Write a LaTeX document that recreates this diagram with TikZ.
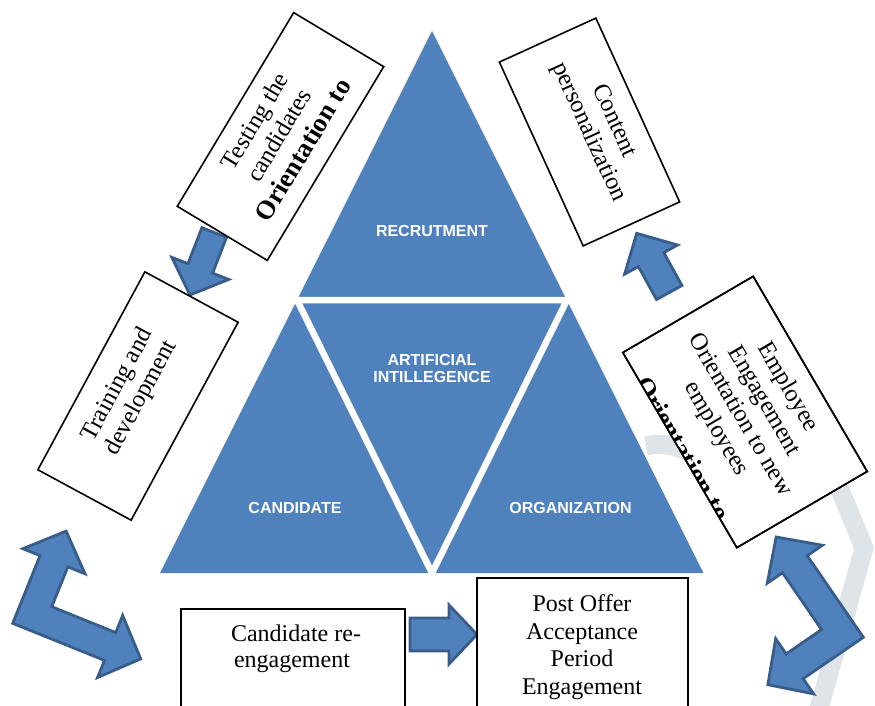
\documentclass[tikz,border=0pt]{standalone}
\usepackage{fontspec}
\setmainfont{Liberation Serif}
\newfontfamily\facetfont{Liberation Sans}
\definecolor{pyramid}{HTML}{4F81BD}
\definecolor{arrowedge}{HTML}{385D8A}
\definecolor{watermark}{HTML}{DEE4E8}
\begin{document}
\begin{tikzpicture}[x=1pt,y=-1pt,
  every node/.style={inner sep=0pt, outer sep=0pt},
  facet label/.style={text=white, align=center,
    font=\facetfont\bfseries\fontsize{16}{17.5}\selectfont},
  card/.style={draw=black, fill=white, line width=1.6pt, transform shape},
  card line/.style={anchor=base, transform shape,
    font=\fontsize{24.5}{27.5}\selectfont},
  card bold/.style={anchor=base, transform shape,
    font=\bfseries\fontsize{26.5}{27.5}\selectfont},
  flat card/.style={draw=black, fill=white, line width=1.6pt},
  flat line/.style={anchor=base, font=\fontsize{24}{27.5}\selectfont},
  blockarrow/.style={fill=pyramid, draw=arrowedge, line width=2.8pt, line join=miter},
  faint band/.style={draw=watermark, line width=19pt, line cap=butt},
]
\useasboundingbox (0,0) rectangle (875,705);
\clip (0,0) rectangle (875,705);

% ---- faint background emblem strokes
\draw[faint band] (832,470) -- (864,548) -- (841,630) -- (818,712);
\draw[faint band] (646,446) .. controls (672,440) and (696,452) .. (706,470);

% ---- pyramid: four facets separated by white gaps
\fill[pyramid] (160,573) coordinate (pyrL) -- (432,31) coordinate (pyrT)
  -- (703.5,573) coordinate (pyrR) -- cycle;
\draw[white, line width=6.5pt, line join=miter]
  (297,300) -- (567,300) -- (432,573) -- cycle;
\node[facet label] (recruit) at (432,231) {RECRUTMENT};
\node[facet label] (ai) at (432,368.5) {ARTIFICIAL\\INTILLEGENCE};
\node[facet label] (cand) at (295,507.5) {CANDIDATE};
\node[facet label] (org) at (570.5,507.5) {ORGANIZATION};

% ---- straight block arrows
\begin{scope}[shift={(214.2,232.5)}, rotate=248.8]
  \draw[blockarrow] (0,-13.2) -- (38.5,-13.2) -- (38.5,-30.5) -- (67,0)
    -- (38.5,30.5) -- (38.5,13.2) -- (0,13.2) -- cycle;
\end{scope}
\begin{scope}[shift={(669.2,292.5)}, rotate=118.8]
  \draw[blockarrow] (0,-14.5) -- (37.6,-14.5) -- (37.6,-30.2) -- (67.5,0)
    -- (37.6,30.2) -- (37.6,14.5) -- (0,14.5) -- cycle;
\end{scope}
\begin{scope}[shift={(410,634.5)}]
  \draw[blockarrow] (0,-16.5) -- (39,-16.5) -- (39,-29.5) -- (67,0)
    -- (39,29.5) -- (39,16.5) -- (0,16.5) -- cycle;
\end{scope}

% ---- bent double-headed arrows
\tikzset{bent arrow/.pic={
  \draw[blockarrow] (0,0) -- (99,0) -- (99,-18.5) -- (132,15) -- (99,48.5)
    -- (99,30) -- (30,30) -- (30,73) -- (48.5,73) -- (15,105.5)
    -- (-18.5,73) -- (0,73) -- cycle;
}}
\pic[shift={(12.7,623.3)}, rotate=-22, yscale=-1] {bent arrow};
\pic[shift={(863.3,637.3)}, rotate=124.5, yscale=-1] {bent arrow};

% ---- tilted text cards
\begin{scope}[shift={(280.5,136.5)}, rotate=59]
  \node[card, minimum width=226pt, minimum height=105pt] (testing) at (0,0) {};
  \begin{scope}
    \clip (-113,-52.5) rectangle (113,52.5);
    \node[card line] (testing1) at (0,-22) {Testing the};
    \node[card line] (testing2) at (0,6) {candidates};
    \node[card bold] (testing3) at (0,35) {Orientation to};
  \end{scope}
\end{scope}

\begin{scope}[shift={(589.5,132)}, rotate=-65.5]
  \node[card, minimum width=202pt, minimum height=106pt] (content) at (0,0) {};
  \node[card line] (content1) at (0,-21) {Content};
  \node[card line] (content2) at (0,7) {personalization};
\end{scope}

\begin{scope}[shift={(138,396)}, rotate=61.6]
  \node[card, minimum width=225pt, minimum height=106pt] (training) at (0,0) {};
  \node[card line] (training1) at (0,-17) {Training and};
  \node[card line] (training2) at (0,10) {development};
\end{scope}

\begin{scope}[shift={(745,412)}, rotate=-59.7]
  \node[card, minimum width=226pt, minimum height=151pt] (employee) at (0,0) {};
  \begin{scope}
    \clip (-113,-75.5) rectangle (113,75.5);
    \node[card line] (employee1) at (0,-43) {Employee};
    \node[card line] (employee2) at (0,-15.5) {Engagement};
    \node[card line] (employee3) at (0,12) {Orientation to new};
    \node[card line] (employee4) at (0,39.5) {employees};
    \node[card bold] (employee5) at (0,81) {Orientation to};
  \end{scope}
  \draw[line width=1.6pt] (-113,-75.5) rectangle (113,75.5);
\end{scope}

% ---- upright cards along the bottom
\draw[flat card] (181,720) rectangle (405,609);
\node[flat line] (reeng1) at (296,641.7) {Candidate re-};
\node[flat line] (reeng2) at (292,667) {engagement};

\draw[flat card] (477,720) rectangle (688,578);
\node[flat line] (post1) at (582,611.7) {Post Offer};
\node[flat line] (post2) at (582,639) {Acceptance};
\node[flat line] (post3) at (582,666.7) {Period};
\node[flat line] (post4) at (582,694.5) {Engagement};
\end{tikzpicture}
\end{document}
